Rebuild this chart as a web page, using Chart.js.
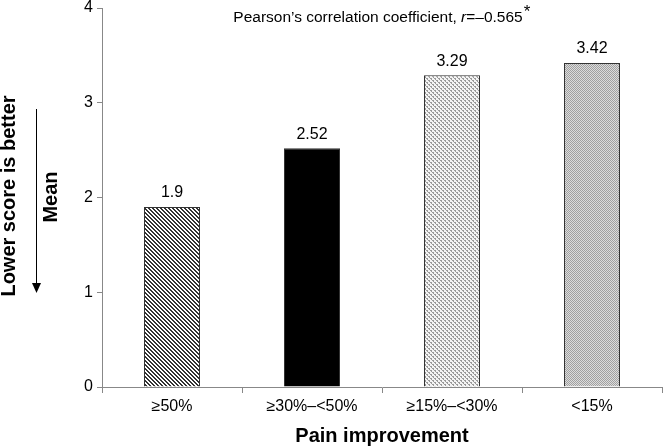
<!DOCTYPE html>
<html><head><meta charset="utf-8">
<script src="https://cdn.jsdelivr.net/npm/chart.js@4"></script>
<style>html,body{margin:0;padding:0;background:#fff}#c{display:block}</style>
</head><body>
<div style="width:663px;height:448px"><canvas id="c" width="663" height="448"></canvas></div>
<script>
const categories = ["\u226550%", "\u226530%\u2013<50%", "\u226515%\u2013<30%", "<15%"];
const meanValues = [1.9, 2.52, 3.29, 3.42];
const valueLabels = ["1.9", "2.52", "3.29", "3.42"];
const yTicks = [0, 1, 2, 3, 4];

const FAM = '"Liberation Sans", Arial, sans-serif';
function mkPattern(size, draw) {
  const c = document.createElement('canvas');
  c.width = size; c.height = size;
  const g = c.getContext('2d');
  draw(g);
  return g.createPattern(c, 'repeat');
}
const pStripe = mkPattern(4, g => {
  g.fillStyle = '#fff'; g.fillRect(0,0,4,4);
  g.fillStyle = '#333';
  g.fillRect(0,0,2,1); g.fillRect(1,1,2,1); g.fillRect(2,2,2,1);
  g.fillRect(3,3,1,1); g.fillRect(0,3,1,1);
});
const pLight = mkPattern(4, g => {
  g.fillStyle = '#f4f4f4'; g.fillRect(0,0,4,4);
  g.fillStyle = '#9a9a9a';
  g.fillRect(0,0,2,1); g.fillRect(2,2,2,1); g.fillRect(1,1,1,1); g.fillRect(3,3,1,1);
});
const pGray = mkPattern(2, g => {
  g.fillStyle = '#dcdcdc'; g.fillRect(0,0,2,2);
  g.fillStyle = '#a0a0a0'; g.fillRect(0,0,1,1); g.fillRect(1,1,1,1);
});

const overlay = {
  id: 'overlay',
  afterDatasetsDraw(chart) {
    const c = chart.ctx;
    const meta = chart.getDatasetMeta(0);
    c.save();
    c.fillStyle = '#000';
    c.font = '16px ' + FAM;
    c.textAlign = 'center'; c.textBaseline = 'bottom';
    meta.data.forEach((b, i) => c.fillText(valueLabels[i], b.x, b.y - 6));
    // title with italic r
    const TF = '15.5px ' + FAM;
    const parts = [
      [TF, 'Pearson\u2019s correlation coefficient, '],
      ['italic ' + TF, 'r'],
      [TF, '=\u20130.565'],
    ];
    let total = 0;
    parts.forEach(p => { c.font = p[0]; total += c.measureText(p[1]).width; });
    c.font = TF;
    const starW = c.measureText('*').width;
    let x = 381 - (total + starW) / 2;
    c.textAlign = 'left'; c.textBaseline = 'middle';
    parts.forEach(p => { c.font = p[0]; c.fillText(p[1], x, 18); x += c.measureText(p[1]).width; });
    c.font = '17px ' + FAM;
    c.fillText('*', x + 1, 12);
    // y axis titles
    c.font = 'bold 20px ' + FAM;
    c.textAlign = 'center';
    c.save(); c.translate(9, 196); c.rotate(-Math.PI/2); c.fillText('Lower score is better', 0, 0); c.restore();
    c.save(); c.translate(51, 197); c.rotate(-Math.PI/2); c.fillText('Mean', 0, 0); c.restore();
    // arrow
    c.strokeStyle = '#000'; c.lineWidth = 1;
    c.beginPath(); c.moveTo(36.5, 109); c.lineTo(36.5, 285); c.stroke();
    c.beginPath(); c.moveTo(32, 283); c.lineTo(41, 283); c.lineTo(36.5, 293); c.closePath(); c.fill();
    c.restore();
  }
};

new Chart(document.getElementById('c'), {
  type: 'bar',
  data: {
    labels: categories,
    datasets: [{
      data: meanValues,
      backgroundColor: [pStripe, '#000', pLight, pGray],
      borderColor: '#333',
      borderWidth: 1,
      borderSkipped: 'bottom',
      categoryPercentage: 1,
      barPercentage: 0.4
    }]
  },
  options: {
    responsive: false,
    animation: false,
    layout: { padding: { top: 8, right: 1, left: 0, bottom: 0 } },
    plugins: { legend: { display: false }, tooltip: { enabled: false } },
    scales: {
      x: {
        offset: true,
        grid: { offset: true, drawOnChartArea: false, drawTicks: true, tickLength: 6, color: '#888' },
        border: { color: '#888', width: 1 },
        ticks: { color: '#000', font: { family: FAM, size: 16 }, padding: 4, maxRotation: 0 },
        title: { display: true, text: 'Pain improvement', color: '#000', font: { family: FAM, size: 20, weight: 'bold' }, padding: { top: 8, bottom: 0 } },
        afterFit(s) { s.height = 61; }
      },
      y: {
        min: 0, max: 4,
        afterBuildTicks(s) { s.ticks = yTicks.map(v => ({ value: v })); },
        grid: { drawOnChartArea: false, drawTicks: true, tickLength: 5, color: '#888' },
        border: { color: '#888', width: 1 },
        ticks: { color: '#000', font: { family: FAM, size: 16 }, padding: 4 },
        afterFit(s) { s.width = 102; s.paddingTop = 0; s.paddingBottom = 0; }
      }
    }
  },
  plugins: [overlay]
});
</script>
</body></html>
